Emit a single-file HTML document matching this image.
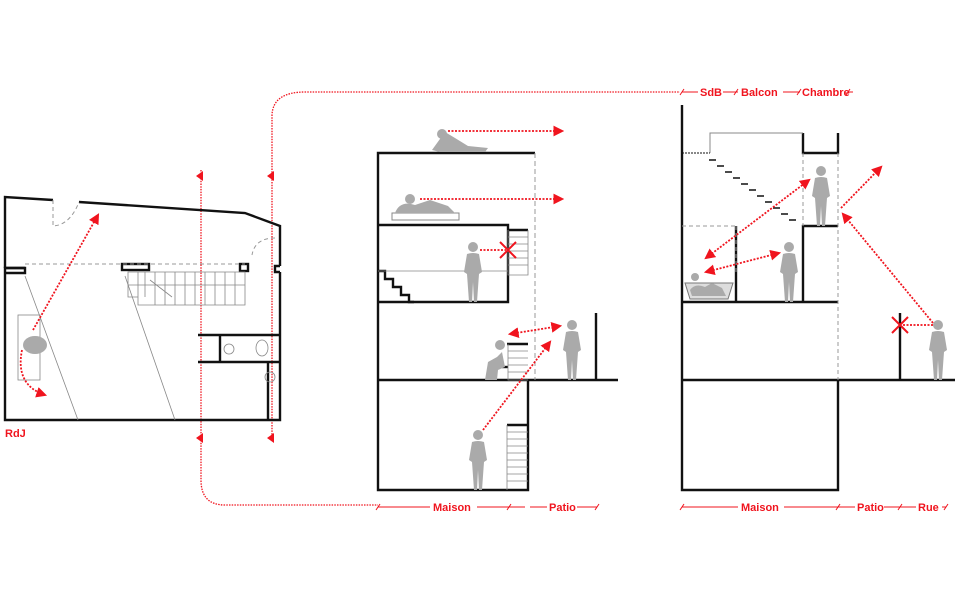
<!DOCTYPE html>
<html><head><meta charset="utf-8"><style>
html,body{margin:0;padding:0;background:#fff;}
svg{display:block;}
text{font-family:"Liberation Sans",sans-serif;font-weight:bold;font-size:11px;fill:#f0141e;}
</style></head><body>
<svg width="960" height="600" viewBox="0 0 960 600" xmlns="http://www.w3.org/2000/svg">
<defs>
<marker id="ah" viewBox="0 0 10 10" refX="8" refY="5" markerWidth="6" markerHeight="6" orient="auto-start-reverse"><path d="M0,0L10,5L0,10z" fill="#f0141e"/></marker>
<g id="man"><circle cx="0" cy="-55" r="5"/><path d="M-6,-48 Q0,-50 6,-48 L9,-30 L6,-28 L5,-14 L4,0 L1,0 L0,-20 L-1,0 L-4,0 L-5,-14 L-6,-28 L-9,-30z"/></g>
</defs>
<g fill="none" stroke="#f0141e" stroke-width="1.3" stroke-dasharray="1.5 1.2">
<path d="M272,440 L272,115 Q273,92 305,92 L680,92"/>
<path d="M201,170 L201,480 Q201,505 225,505 L378,505"/>
</g>
<path d="M196,176l7,-5v10z M267,176l7,-5v10z M196,438l7,-5v10z M267,438l7,-5v10z" fill="#f0141e"/>
<!-- plan -->
<g fill="none" stroke="#111" stroke-width="2.4">
<path d="M5,268 V197 L53,200 M79,202 L245,213 L280,226 V266"/>
<path d="M25,268 H5 V420 H280 V272"/>
<path d="M5,268 H25 V273 H5"/>
<rect x="122" y="264" width="27" height="6"/><rect x="240" y="264" width="8" height="7"/>
<path d="M280,266 h-5 v6 h5"/>
<path d="M198,335 H280 M198,362 H280 M220,335 V362 M268,362 V420"/>
</g>
<g fill="none" stroke="#888" stroke-width="0.8">
<path d="M25,276 L78,420 M125,276 L175,420"/>
<path d="M128,272 H245 V305 H138 V297 H128z M128,285 H245 M138,272 V305"/>
<path d="M145,272v25 M155,272v33 M165,272v33 M175,272v33 M185,272v33 M195,272v33 M205,272v33 M215,272v33 M225,272v33 M235,272v33 M150,280 L172,297"/>
<circle cx="229" cy="349" r="5"/><ellipse cx="262" cy="348" rx="6" ry="8"/><circle cx="270" cy="377" r="5"/>
<rect x="18" y="315" width="22" height="65"/>
</g>
<g fill="none" stroke="#999" stroke-width="1" stroke-dasharray="4 3">
<path d="M25,264 H245"/>
<path d="M53,200 V226 Q70,225 79,202"/>
<path d="M275,238 Q255,238 252,255"/>
</g>
<ellipse cx="35" cy="345" rx="12" ry="9" fill="#aaa"/>
<g fill="none" stroke="#f0141e" stroke-width="1.8" stroke-dasharray="2 1.5">
<path d="M33,330 L98,215" marker-end="url(#ah)"/>
<path d="M22,350 Q15,385 45,395" marker-end="url(#ah)"/>
</g>
<text x="5" y="437">RdJ</text>
<!-- middle section -->
<g fill="none" stroke="#111" stroke-width="2.4">
<path d="M535,153 H378 V490 H528 V380 M378,380 H618 M596,313 V380"/>
<path d="M378,225 H508 V302 H378 M508,230 H528 M507,344 H528 M507,425 H528"/>
<path d="M378,271 h7 v8 h8 v8 h8 v8 h8 v7 h5"/>
<path d="M502,367 h6"/>
</g>
<path d="M535,153 V380" stroke="#999" stroke-dasharray="5 3" fill="none"/>
<g stroke="#888" stroke-width="0.8" fill="none">
<path d="M378,271 H508 M508,230 V275 H528 V230"/>
<path d="M508,237h20M508,244h20M508,251h20M508,258h20M508,265h20"/>
<path d="M508,344 V380 H528 M508,351h20M508,358h20M508,365h20M508,372h20"/>
<path d="M507,425 V490 M507,432h21M507,439h21M507,446h21M507,453h21M507,460h21M507,467h21M507,474h21M507,481h21"/>
</g>
<g fill="#aaa">
<path d="M432,150 L445,132 L455,138 L468,146 L488,148 L485,152 L440,152z"/>
<circle cx="442" cy="134" r="5"/>
<rect x="392" y="213" width="67" height="7" fill="#fff" stroke="#888"/>
<path d="M395,213 Q400,200 415,205 L430,200 L448,206 L455,213z"/><circle cx="410" cy="199" r="5"/>
<use href="#man" transform="translate(473,302)"/>
<use href="#man" transform="translate(572,380)"/>
<use href="#man" transform="translate(478,490)"/>
<path d="M485,380 L488,362 L497,357 L502,352 L505,367 L498,370 L497,380z"/><circle cx="500" cy="345" r="5"/>
</g>
<g fill="none" stroke="#f0141e" stroke-width="1.8" stroke-dasharray="2 1.5">
<path d="M448,131 H562" marker-end="url(#ah)"/>
<path d="M420,199 H562" marker-end="url(#ah)"/>
<path d="M480,250 H506"/>
<path d="M510,334 L560,326" marker-start="url(#ah)" marker-end="url(#ah)"/>
<path d="M483,430 L550,342" marker-end="url(#ah)"/>
</g>
<path d="M500,242 L516,258 M516,242 L500,258" stroke="#f0141e" stroke-width="2"/>
<!-- right section -->
<g fill="none" stroke="#111" stroke-width="2.4">
<path d="M682,105 V490 H838 V380 M682,380 H955 M682,302 H838"/>
<path d="M803,133 V153 H838 V133 M803,302 V226 H838 M736,226 V302 M900,313 V380"/>
</g>
<path d="M710,153 V133 H803" stroke="#888" fill="none"/>
<path d="M682,153 H710" stroke="#111" stroke-dasharray="2 1" fill="none"/>
<g stroke="#111" stroke-width="1.5"><path d="M709,160h7M717,166h7M725,172h7M733,178h7M741,184h7M749,190h7M757,196h7M765,202h7M773,208h7M781,214h7M789,220h7"/></g>
<g fill="none" stroke="#999" stroke-dasharray="4 3">
<path d="M682,226 H736 M736,226 V273 M803,153 V226 M838,153 V380"/>
</g>
<path d="M685,283 H733 L728,299 H690z" fill="#ddd" stroke="#777"/>
<g fill="#aaa">
<path d="M690,290 Q695,283 705,287 L712,283 L722,288 L726,296 L692,296z"/><circle cx="695" cy="277" r="4"/>
<use href="#man" transform="translate(821,226)"/>
<use href="#man" transform="translate(789,302)"/>
<use href="#man" transform="translate(938,380)"/>
</g>
<g fill="none" stroke="#f0141e" stroke-width="1.8" stroke-dasharray="2 1.5">
<path d="M706,258 L809,180" marker-start="url(#ah)" marker-end="url(#ah)"/>
<path d="M706,272 L779,253" marker-start="url(#ah)" marker-end="url(#ah)"/>
<path d="M841,208 L881,167" marker-end="url(#ah)"/>
<path d="M933,323 L843,214" marker-end="url(#ah)"/>
<path d="M933,325 H902"/>
</g>
<path d="M892,317 L908,333 M908,317 L892,333" stroke="#f0141e" stroke-width="2"/>
<!-- dimension lines -->
<g stroke="#f0141e" stroke-width="1" fill="none">
<path d="M378,507 H430 M477,507 H525 M530,507 H547 M577,507 H597"/>
<path d="M682,507 H738 M784,507 H855 M884,507 H916 M942,507 H946"/>
<path d="M682,92 H698 M723,92 H738 M783,92 H800 M853,92 H848"/>
<path d="M376,510l4,-6 M507,510l4,-6 M595,510l4,-6 M680,510l4,-6 M836,510l4,-6 M898,510l4,-6 M944,510l4,-6"/>
<path d="M680,95l4,-6 M734,95l4,-6 M797,95l4,-6 M846,95l4,-6"/>
</g>
<text x="433" y="511">Maison</text><text x="549" y="511">Patio</text>
<text x="741" y="511">Maison</text><text x="857" y="511">Patio</text><text x="918" y="511">Rue</text>
<text x="700" y="96">SdB</text><text x="741" y="96">Balcon</text><text x="802" y="96">Chambre</text>
</svg>
</body></html>
